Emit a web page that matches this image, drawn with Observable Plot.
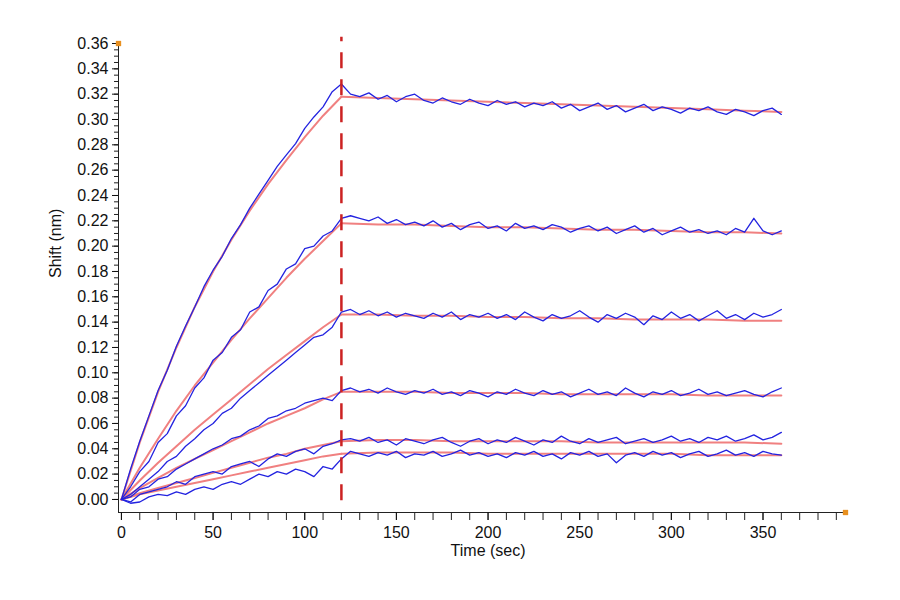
<!DOCTYPE html>
<html><head><meta charset="utf-8">
<script src="https://cdn.jsdelivr.net/npm/d3@7"></script>
<script src="https://cdn.jsdelivr.net/npm/@observablehq/plot@0.6"></script>
<style>body{margin:0;background:#fff;font-family:"Liberation Sans",Arial,sans-serif}</style>
</head><body><div id="chart"></div>
<script>
const rawStep = 5;   // seconds between raw samples
const fitAssocTimes = [0,10,20,30,40,50,60,70,80,90,100,110,120];
const fitDissTimes = [120,140,160,180,200,220,240,260,280,300,320,340,360];
const fitAssoc = [
 [0,0.045,0.085,0.12,0.152,0.18,0.205,0.228,0.249,0.268,0.286,0.303,0.318],
 [0,0.025,0.048,0.07,0.09,0.108,0.126,0.143,0.159,0.175,0.19,0.204,0.218],
 [0,0.015,0.029,0.042,0.055,0.067,0.079,0.091,0.103,0.114,0.125,0.136,0.146],
 [0,0.009,0.017,0.025,0.032,0.039,0.046,0.053,0.060,0.066,0.072,0.079,0.085],
 [0,0.005,0.009,0.013,0.017,0.021,0.025,0.029,0.033,0.036,0.040,0.043,0.046],
 [0,0.004,0.007,0.010,0.013,0.016,0.019,0.022,0.025,0.028,0.031,0.034,0.036]];
const fitDiss = [
 [0.318,0.317,0.316,0.315,0.314,0.313,0.312,0.311,0.310,0.309,0.308,0.307,0.306],
 [0.218,0.217,0.217,0.216,0.215,0.215,0.214,0.213,0.213,0.212,0.211,0.211,0.210],
 [0.146,0.146,0.145,0.145,0.144,0.144,0.143,0.143,0.142,0.142,0.142,0.141,0.141],
 [0.085,0.085,0.085,0.084,0.084,0.084,0.083,0.083,0.083,0.083,0.082,0.082,0.082],
 [0.046,0.047,0.047,0.046,0.046,0.046,0.046,0.045,0.045,0.045,0.045,0.045,0.044],
 [0.036,0.037,0.037,0.037,0.036,0.036,0.036,0.036,0.036,0.036,0.035,0.035,0.035]];
const raw1 = [0.000,0.024,0.046,0.066,0.086,0.102,0.121,0.137,0.152,0.168,0.181,0.192,0.206,0.217,0.230,0.241,0.252,0.263,0.272,0.281,0.293,0.302,0.310,0.322,0.328,
 0.320,0.318,0.321,0.316,0.319,0.314,0.318,0.320,0.315,0.313,0.317,0.314,0.312,0.316,0.313,0.311,0.315,0.312,0.314,0.310,0.313,0.311,0.314,0.309,
 0.312,0.307,0.310,0.313,0.308,0.311,0.306,0.309,0.312,0.307,0.310,0.308,0.305,0.309,0.307,0.310,0.306,0.304,0.308,0.306,0.303,0.307,0.309,0.304];
const raw2 = [0.000,0.010,0.022,0.030,0.045,0.052,0.066,0.074,0.088,0.096,0.110,0.116,0.128,0.134,0.148,0.152,0.165,0.170,0.182,0.186,0.198,0.200,0.208,0.212,0.222,
 0.224,0.222,0.220,0.223,0.218,0.221,0.217,0.219,0.216,0.220,0.215,0.218,0.213,0.217,0.219,0.214,0.216,0.212,0.218,0.214,0.216,0.213,0.217,0.215,
 0.211,0.214,0.216,0.212,0.215,0.210,0.213,0.216,0.211,0.214,0.209,0.212,0.215,0.211,0.213,0.210,0.212,0.209,0.214,0.211,0.222,0.212,0.209,0.212];
const raw3 = [0.000,0.004,0.010,0.016,0.022,0.030,0.034,0.042,0.048,0.055,0.060,0.068,0.072,0.080,0.086,0.092,0.098,0.104,0.110,0.116,0.122,0.128,0.130,0.136,0.148,
 0.150,0.146,0.149,0.145,0.148,0.144,0.147,0.145,0.143,0.147,0.144,0.148,0.142,0.146,0.144,0.147,0.143,0.146,0.142,0.148,0.144,0.141,0.146,0.143,
 0.145,0.149,0.144,0.140,0.146,0.143,0.147,0.144,0.138,0.145,0.142,0.148,0.143,0.146,0.141,0.145,0.149,0.143,0.146,0.142,0.147,0.144,0.146,0.150];
const raw4 = [0.000,0.002,0.008,0.010,0.016,0.018,0.024,0.028,0.032,0.036,0.040,0.043,0.048,0.050,0.055,0.058,0.064,0.066,0.070,0.072,0.076,0.078,0.080,0.078,0.086,
 0.088,0.085,0.087,0.084,0.088,0.085,0.083,0.086,0.084,0.087,0.083,0.085,0.082,0.086,0.084,0.081,0.085,0.083,0.087,0.084,0.082,0.086,0.083,0.085,
 0.081,0.084,0.087,0.083,0.085,0.082,0.088,0.084,0.081,0.085,0.083,0.086,0.082,0.084,0.087,0.083,0.085,0.082,0.084,0.086,0.083,0.081,0.085,0.088];
const raw5 = [0.000,-0.002,0.004,0.006,0.008,0.010,0.014,0.012,0.018,0.020,0.022,0.020,0.026,0.028,0.030,0.026,0.032,0.036,0.034,0.038,0.040,0.036,0.042,0.044,0.047,
 0.048,0.046,0.049,0.045,0.047,0.043,0.048,0.046,0.044,0.047,0.049,0.045,0.042,0.046,0.048,0.044,0.047,0.045,0.049,0.046,0.043,0.047,0.045,0.050,
 0.046,0.044,0.048,0.045,0.047,0.049,0.044,0.046,0.048,0.045,0.047,0.050,0.046,0.048,0.045,0.049,0.047,0.050,0.046,0.048,0.051,0.047,0.049,0.053];
const raw6 = [0.000,-0.003,-0.002,0.002,0.004,0.003,0.006,0.004,0.008,0.010,0.008,0.012,0.014,0.012,0.016,0.020,0.018,0.022,0.020,0.024,0.022,0.018,0.026,0.024,0.032,
 0.038,0.036,0.034,0.037,0.035,0.038,0.033,0.036,0.035,0.038,0.034,0.036,0.039,0.035,0.037,0.034,0.036,0.033,0.037,0.035,0.038,0.034,0.036,0.032,
 0.037,0.035,0.038,0.034,0.036,0.029,0.035,0.037,0.034,0.038,0.035,0.037,0.033,0.036,0.038,0.034,0.036,0.039,0.035,0.037,0.034,0.038,0.036,0.035];
const rawSeries = [raw1,raw2,raw3,raw4,raw5,raw6];
const yTickLabels = [0,0.02,0.04,0.06,0.08,0.10,0.12,0.14,0.16,0.18,0.20,0.22,0.24,0.26,0.28,0.30,0.32,0.34,0.36];
const xTickLabels = [0,50,100,150,200,250,300,350];
const switchTime = 120;

const rawData = rawSeries.flatMap((s,k)=>s.map((v,i)=>({t:i*rawStep,v,k})));
const fitData = [];
fitAssoc.forEach((s,k)=>{ s.forEach((v,i)=>fitData.push({t:fitAssocTimes[i],v,k,seg:"a"+k})); });
fitDiss.forEach((s,k)=>{ s.forEach((v,i)=>fitData.push({t:fitDissTimes[i],v,k,seg:"d"+k})); });
const yMinor = d3.range(0, 73).map(i=>i*0.005);
const xMinor = d3.range(0, 40).map(i=>i*10);

const chart = Plot.plot({
  width: 900, height: 560,
  marginLeft: 118, marginRight: 55, marginTop: 43, marginBottom: 48,
  style: {fontFamily: "Liberation Sans, Arial, sans-serif", fontSize: "16px", color: "#111"},
  x: {domain: [-1.6, 395], label: null},
  y: {domain: [-0.0103, 0.36], label: null},
  marks: [
    Plot.ruleY([-0.0103], {x1:-1.6, x2:395, stroke:"#222"}),
    Plot.ruleX([-1.6], {y1:-0.0103, y2:0.36, stroke:"#222"}),
    Plot.axisY(yMinor, {tickSize:4, tickFormat:()=>"", stroke:"#222", label:null}),
    Plot.axisY(yTickLabels, {tickSize:6, tickFormat:d3.format(".2f"), fontSize:16, tickPadding:4, label:null}),
    Plot.axisX(xMinor, {tickSize:8, tickFormat:()=>"", stroke:"#222", label:null}),
    Plot.axisX(xTickLabels, {tickSize:8, fontSize:16, tickPadding:6, label:null}),
    Plot.line(fitData, {x:"t", y:"v", z:"seg", stroke:"#f08080", strokeWidth:2}),
    Plot.line(rawData, {x:"t", y:"v", z:"k", stroke:"#2323e0", strokeWidth:1.3}),
    Plot.ruleX([switchTime], {y1:-0.001, y2:0.365, stroke:"#cc2222", strokeWidth:2.5, strokeDasharray:"16,11"}),
    Plot.text(["Time (sec)"], {x:200, y:-0.0103, dy:38, fontSize:16, frameAnchor:"middle"}),
    Plot.text(["Shift (nm)"], {frameAnchor:"left", dx:-63, rotate:-90, fontSize:16}),
    Plot.dot([0.36], {x:-1.6, y:d=>d, symbol:"square", r:3, fill:"#e89020", stroke:"none"}),
    Plot.dot([395], {x:d=>d, y:-0.0103, symbol:"square", r:3, fill:"#e89020", stroke:"none"})
  ]
});
document.getElementById("chart").appendChild(chart);
</script></body></html>
